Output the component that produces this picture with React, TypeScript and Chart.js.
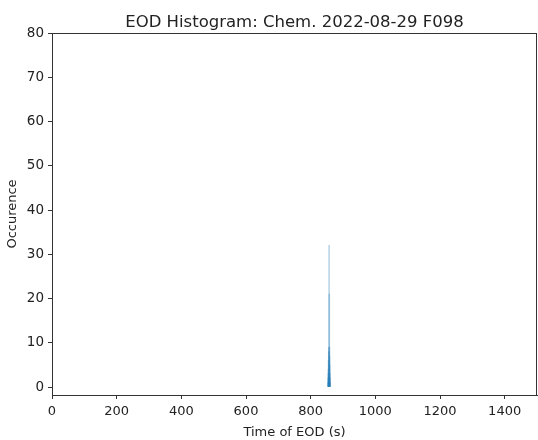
import React, { useEffect, useRef } from "react";
import { Chart, registerables } from "chart.js";

Chart.register(...registerables);

const TITLE = "EOD Histogram: Chem. 2022-08-29 F098";
const X_LABEL = "Time of EOD (s)";
const Y_LABEL = "Occurence";

// histogram bins (centre time, s) and counts
const binCenters = [853.5, 854.0, 854.5, 855.0, 855.5, 856.0, 856.5, 857.0, 857.5, 858.0, 858.5, 859.0, 859.5, 860.0, 860.5];
const binCounts = [1, 2, 3, 4, 6, 8, 9, 32, 21, 9, 7, 5, 3, 2, 1];

const xTicks = [0, 200, 400, 600, 800, 1000, 1200, 1400];
const yTicks = [0, 10, 20, 30, 40, 50, 60, 70, 80];
const X_MIN = 0;
const X_MAX = 1500;
const Y_MIN = -1.8;
const Y_MAX = 80;

const FONT = "'DejaVu Sans', sans-serif";

export default function App() {
  const ref = useRef<HTMLCanvasElement | null>(null);

  useEffect(() => {
    if (!ref.current) return;
    const framePlugin = {
      id: "frame",
      afterDraw(chart: any) {
        const { ctx, chartArea } = chart;
        ctx.save();
        ctx.strokeStyle = "#333";
        ctx.lineWidth = 1;
        ctx.strokeRect(
          Math.round(chartArea.left) + 0.5,
          Math.round(chartArea.top) + 0.5,
          Math.round(chartArea.right - chartArea.left) - 1,
          Math.round(chartArea.bottom - chartArea.top)
        );
        ctx.fillStyle = "#222";
        ctx.font = "16.5px " + FONT;
        ctx.textAlign = "center";
        ctx.textBaseline = "alphabetic";
        ctx.fillText(TITLE, (chartArea.left + chartArea.right) / 2, chartArea.top - 6);
        ctx.restore();
      },
    };

    const axisCommon = {
      grid: { drawOnChartArea: false, drawTicks: true, tickLength: 4, color: "#333", offset: false },
      border: { display: true, color: "#333" },
    };

    const chart = new Chart(ref.current, {
      type: "bar",
      data: {
        datasets: [
          {
            data: binCenters.map((x, i) => ({ x, y: binCounts[i] })),
            backgroundColor: "rgba(31,119,180,0.3)",
            borderWidth: 0,
            barThickness: 1,
          },
        ],
      },
      options: {
        responsive: false,
        animation: false,
        devicePixelRatio: 1,
        layout: { padding: { top: 33, right: 1, left: 0, bottom: 0 } },
        plugins: { legend: { display: false }, tooltip: { enabled: false }, title: { display: false } },
        scales: {
          x: {
            type: "linear",
            min: X_MIN,
            max: X_MAX,
            offset: false,
            afterBuildTicks: (s: any) => {
              s.ticks = xTicks.map((v) => ({ value: v }));
            },
            afterFit: (s: any) => {
              s.height = 45;
            },
            ...axisCommon,
            ticks: {
              color: "#222",
              font: { family: FONT, size: 13 },
              padding: 5,
              maxRotation: 0,
              autoSkip: false,
              callback: (v: any) => String(v),
            },
            title: { display: true, text: X_LABEL, color: "#222", font: { family: FONT, size: 13 }, padding: { top: 2, bottom: 0 } },
          },
          y: {
            type: "linear",
            min: Y_MIN,
            max: Y_MAX,
            afterBuildTicks: (s: any) => {
              s.ticks = yTicks.map((v) => ({ value: v }));
            },
            afterFit: (s: any) => {
              s.width = 52;
            },
            ...axisCommon,
            ticks: { color: "#222", font: { family: FONT, size: 13.5 }, padding: 4, autoSkip: false, callback: (v: any) => String(v) },
            title: { display: true, text: Y_LABEL, color: "#222", font: { family: FONT, size: 13 }, padding: { top: 5, bottom: 0 } },
          },
        },
      },
      plugins: [framePlugin],
    });
    return () => chart.destroy();
  }, []);

  return (
    <div style={{ position: "fixed", left: 0, top: 0, width: 538, height: 440, background: "#fff" }}>
      <canvas ref={ref} width={538} height={440} style={{ width: 538, height: 440 }} />
    </div>
  );
}
